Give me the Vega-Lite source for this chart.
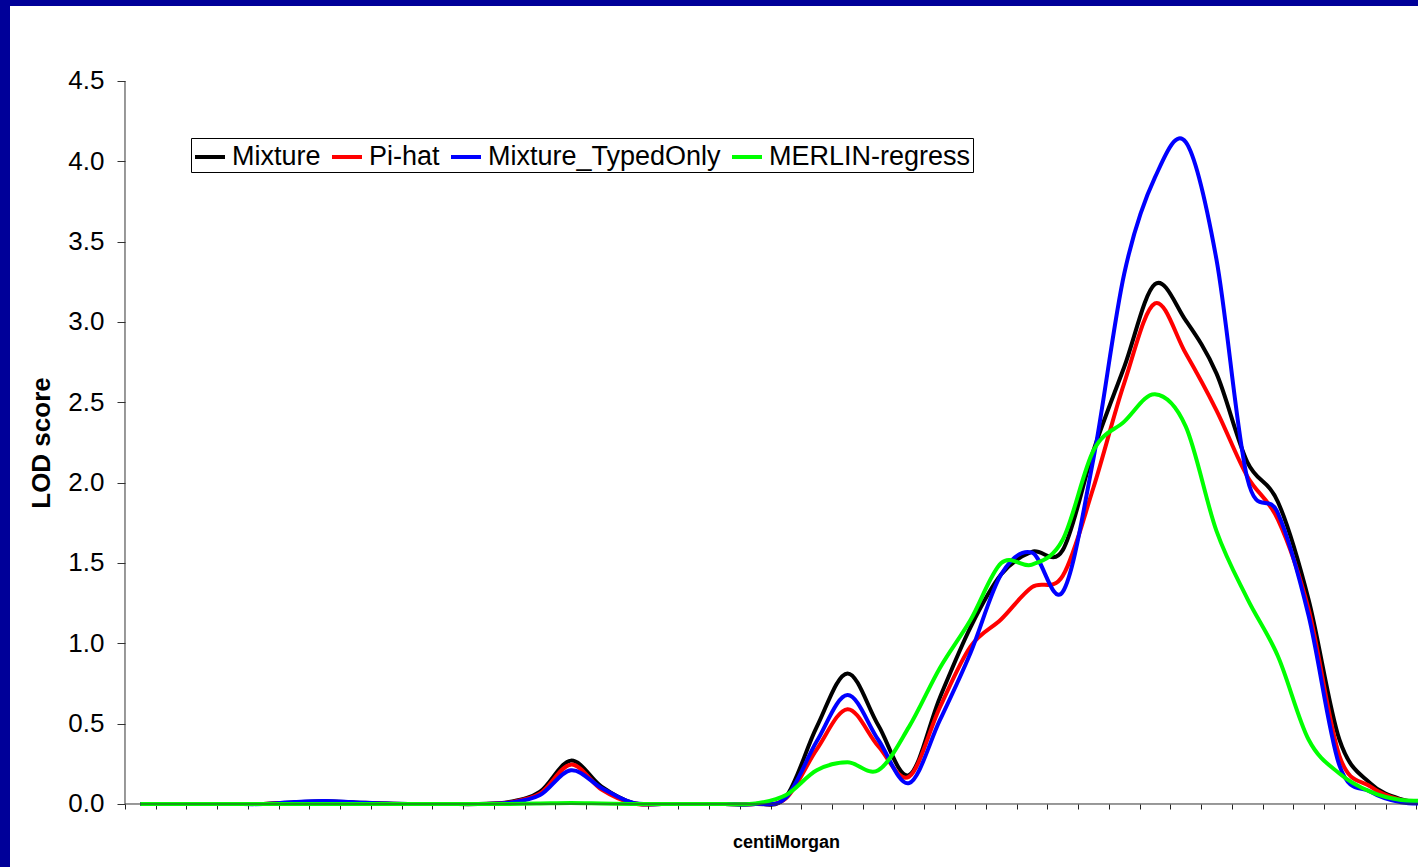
{
  "$schema": "https://vega.github.io/schema/vega-lite/v6.json",
  "width": 1408,
  "height": 861,
  "autosize": {"type": "none"},
  "padding": {"left": 10, "top": 6, "right": 0, "bottom": 0},
  "background": "#000099",
  "config": {
    "view": {"fill": "white", "stroke": null},
    "font": "Liberation Sans"
  },
  "layer": [
    {
      "data": {"values": [
        {"cm":1,"series":"Mixture","lod":0},{"cm":2,"series":"Mixture","lod":0},{"cm":3,"series":"Mixture","lod":0},{"cm":4,"series":"Mixture","lod":0},{"cm":5,"series":"Mixture","lod":0},
        {"cm":6,"series":"Mixture","lod":0.01},{"cm":7,"series":"Mixture","lod":0.017},{"cm":8,"series":"Mixture","lod":0.01},{"cm":9,"series":"Mixture","lod":0.003},{"cm":10,"series":"Mixture","lod":0},
        {"cm":11,"series":"Mixture","lod":0},{"cm":12,"series":"Mixture","lod":0},{"cm":13,"series":"Mixture","lod":0.012},{"cm":14,"series":"Mixture","lod":0.077},{"cm":15,"series":"Mixture","lod":0.27},
        {"cm":16,"series":"Mixture","lod":0.108},{"cm":17,"series":"Mixture","lod":0.008},{"cm":18,"series":"Mixture","lod":0},{"cm":19,"series":"Mixture","lod":0},{"cm":20,"series":"Mixture","lod":0},
        {"cm":21,"series":"Mixture","lod":0},{"cm":22,"series":"Mixture","lod":0.045},{"cm":23,"series":"Mixture","lod":0.48},{"cm":24,"series":"Mixture","lod":0.813},{"cm":25,"series":"Mixture","lod":0.49},
        {"cm":26,"series":"Mixture","lod":0.18},{"cm":27,"series":"Mixture","lod":0.66},{"cm":28,"series":"Mixture","lod":1.1},{"cm":29,"series":"Mixture","lod":1.43},{"cm":30,"series":"Mixture","lod":1.57},
        {"cm":31,"series":"Mixture","lod":1.58},{"cm":32,"series":"Mixture","lod":2.2},{"cm":33,"series":"Mixture","lod":2.72},{"cm":34,"series":"Mixture","lod":3.236},{"cm":35,"series":"Mixture","lod":3.01},
        {"cm":36,"series":"Mixture","lod":2.68},{"cm":37,"series":"Mixture","lod":2.13},{"cm":38,"series":"Mixture","lod":1.88},{"cm":39,"series":"Mixture","lod":1.27},{"cm":40,"series":"Mixture","lod":0.4},
        {"cm":41,"series":"Mixture","lod":0.13},{"cm":42,"series":"Mixture","lod":0.03},{"cm":43,"series":"Mixture","lod":0.01},

        {"cm":1,"series":"Pi-hat","lod":0},{"cm":2,"series":"Pi-hat","lod":0},{"cm":3,"series":"Pi-hat","lod":0},{"cm":4,"series":"Pi-hat","lod":0},{"cm":5,"series":"Pi-hat","lod":0},
        {"cm":6,"series":"Pi-hat","lod":0.008},{"cm":7,"series":"Pi-hat","lod":0.012},{"cm":8,"series":"Pi-hat","lod":0.006},{"cm":9,"series":"Pi-hat","lod":0.002},{"cm":10,"series":"Pi-hat","lod":0},
        {"cm":11,"series":"Pi-hat","lod":0},{"cm":12,"series":"Pi-hat","lod":0},{"cm":13,"series":"Pi-hat","lod":0.01},{"cm":14,"series":"Pi-hat","lod":0.065},{"cm":15,"series":"Pi-hat","lod":0.245},
        {"cm":16,"series":"Pi-hat","lod":0.09},{"cm":17,"series":"Pi-hat","lod":0.005},{"cm":18,"series":"Pi-hat","lod":0},{"cm":19,"series":"Pi-hat","lod":0},{"cm":20,"series":"Pi-hat","lod":0},
        {"cm":21,"series":"Pi-hat","lod":0},{"cm":22,"series":"Pi-hat","lod":0.035},{"cm":23,"series":"Pi-hat","lod":0.34},{"cm":24,"series":"Pi-hat","lod":0.59},{"cm":25,"series":"Pi-hat","lod":0.36},
        {"cm":26,"series":"Pi-hat","lod":0.17},{"cm":27,"series":"Pi-hat","lod":0.6},{"cm":28,"series":"Pi-hat","lod":0.98},{"cm":29,"series":"Pi-hat","lod":1.15},{"cm":30,"series":"Pi-hat","lod":1.35},
        {"cm":31,"series":"Pi-hat","lod":1.42},{"cm":32,"series":"Pi-hat","lod":1.97},{"cm":33,"series":"Pi-hat","lod":2.62},{"cm":34,"series":"Pi-hat","lod":3.116},{"cm":35,"series":"Pi-hat","lod":2.805},
        {"cm":36,"series":"Pi-hat","lod":2.45},{"cm":37,"series":"Pi-hat","lod":2.04},{"cm":38,"series":"Pi-hat","lod":1.77},{"cm":39,"series":"Pi-hat","lod":1.21},{"cm":40,"series":"Pi-hat","lod":0.3},
        {"cm":41,"series":"Pi-hat","lod":0.11},{"cm":42,"series":"Pi-hat","lod":0.025},{"cm":43,"series":"Pi-hat","lod":0.01},

        {"cm":1,"series":"Mixture_TypedOnly","lod":0},{"cm":2,"series":"Mixture_TypedOnly","lod":0},{"cm":3,"series":"Mixture_TypedOnly","lod":0},{"cm":4,"series":"Mixture_TypedOnly","lod":0},{"cm":5,"series":"Mixture_TypedOnly","lod":0},
        {"cm":6,"series":"Mixture_TypedOnly","lod":0.012},{"cm":7,"series":"Mixture_TypedOnly","lod":0.018},{"cm":8,"series":"Mixture_TypedOnly","lod":0.01},{"cm":9,"series":"Mixture_TypedOnly","lod":0.003},{"cm":10,"series":"Mixture_TypedOnly","lod":0},
        {"cm":11,"series":"Mixture_TypedOnly","lod":0},{"cm":12,"series":"Mixture_TypedOnly","lod":0},{"cm":13,"series":"Mixture_TypedOnly","lod":0.008},{"cm":14,"series":"Mixture_TypedOnly","lod":0.056},{"cm":15,"series":"Mixture_TypedOnly","lod":0.21},
        {"cm":16,"series":"Mixture_TypedOnly","lod":0.1},{"cm":17,"series":"Mixture_TypedOnly","lod":0.008},{"cm":18,"series":"Mixture_TypedOnly","lod":0},{"cm":19,"series":"Mixture_TypedOnly","lod":0},{"cm":20,"series":"Mixture_TypedOnly","lod":0},
        {"cm":21,"series":"Mixture_TypedOnly","lod":0},{"cm":22,"series":"Mixture_TypedOnly","lod":0.04},{"cm":23,"series":"Mixture_TypedOnly","lod":0.39},{"cm":24,"series":"Mixture_TypedOnly","lod":0.678},{"cm":25,"series":"Mixture_TypedOnly","lod":0.4},
        {"cm":26,"series":"Mixture_TypedOnly","lod":0.13},{"cm":27,"series":"Mixture_TypedOnly","lod":0.52},{"cm":28,"series":"Mixture_TypedOnly","lod":0.94},{"cm":29,"series":"Mixture_TypedOnly","lod":1.43},{"cm":30,"series":"Mixture_TypedOnly","lod":1.565},
        {"cm":31,"series":"Mixture_TypedOnly","lod":1.32},{"cm":32,"series":"Mixture_TypedOnly","lod":2.15},{"cm":33,"series":"Mixture_TypedOnly","lod":3.3},{"cm":34,"series":"Mixture_TypedOnly","lod":3.9},{"cm":35,"series":"Mixture_TypedOnly","lod":4.12},
        {"cm":36,"series":"Mixture_TypedOnly","lod":3.39},{"cm":37,"series":"Mixture_TypedOnly","lod":2.03},{"cm":38,"series":"Mixture_TypedOnly","lod":1.81},{"cm":39,"series":"Mixture_TypedOnly","lod":1.17},{"cm":40,"series":"Mixture_TypedOnly","lod":0.24},
        {"cm":41,"series":"Mixture_TypedOnly","lod":0.077},{"cm":42,"series":"Mixture_TypedOnly","lod":0.01},{"cm":43,"series":"Mixture_TypedOnly","lod":0.005},

        {"cm":1,"series":"MERLIN-regress","lod":0},{"cm":2,"series":"MERLIN-regress","lod":0},{"cm":3,"series":"MERLIN-regress","lod":0},{"cm":4,"series":"MERLIN-regress","lod":0},{"cm":5,"series":"MERLIN-regress","lod":0},
        {"cm":6,"series":"MERLIN-regress","lod":0},{"cm":7,"series":"MERLIN-regress","lod":0},{"cm":8,"series":"MERLIN-regress","lod":0},{"cm":9,"series":"MERLIN-regress","lod":0},{"cm":10,"series":"MERLIN-regress","lod":0},
        {"cm":11,"series":"MERLIN-regress","lod":0},{"cm":12,"series":"MERLIN-regress","lod":0},{"cm":13,"series":"MERLIN-regress","lod":0},{"cm":14,"series":"MERLIN-regress","lod":0.003},{"cm":15,"series":"MERLIN-regress","lod":0.006},
        {"cm":16,"series":"MERLIN-regress","lod":0.003},{"cm":17,"series":"MERLIN-regress","lod":0},{"cm":18,"series":"MERLIN-regress","lod":0},{"cm":19,"series":"MERLIN-regress","lod":0},{"cm":20,"series":"MERLIN-regress","lod":0},
        {"cm":21,"series":"MERLIN-regress","lod":0.003},{"cm":22,"series":"MERLIN-regress","lod":0.056},{"cm":23,"series":"MERLIN-regress","lod":0.21},{"cm":24,"series":"MERLIN-regress","lod":0.26},{"cm":25,"series":"MERLIN-regress","lod":0.21},
        {"cm":26,"series":"MERLIN-regress","lod":0.48},{"cm":27,"series":"MERLIN-regress","lod":0.845},{"cm":28,"series":"MERLIN-regress","lod":1.145},{"cm":29,"series":"MERLIN-regress","lod":1.5},{"cm":30,"series":"MERLIN-regress","lod":1.49},
        {"cm":31,"series":"MERLIN-regress","lod":1.645},{"cm":32,"series":"MERLIN-regress","lod":2.2},{"cm":33,"series":"MERLIN-regress","lod":2.38},{"cm":34,"series":"MERLIN-regress","lod":2.55},{"cm":35,"series":"MERLIN-regress","lod":2.35},
        {"cm":36,"series":"MERLIN-regress","lod":1.7},{"cm":37,"series":"MERLIN-regress","lod":1.28},{"cm":38,"series":"MERLIN-regress","lod":0.92},{"cm":39,"series":"MERLIN-regress","lod":0.4},{"cm":40,"series":"MERLIN-regress","lod":0.19},
        {"cm":41,"series":"MERLIN-regress","lod":0.077},{"cm":42,"series":"MERLIN-regress","lod":0.025},{"cm":43,"series":"MERLIN-regress","lod":0.025}
      ]},
      "mark": {"type": "line", "interpolate": "cardinal", "strokeWidth": 4, "clip": true},
      "encoding": {
        "x": {
          "field": "cm", "type": "quantitative",
          "scale": {"domain": [-3.2404, 42.5556], "nice": false, "zero": false},
          "axis": {
            "orient": "bottom", "offset": -63, "tickCount": 200,
            "values": [0.5,1.5,2.5,3.5,4.5,5.5,6.5,7.5,8.5,9.5,10.5,11.5,12.5,13.5,14.5,15.5,16.5,17.5,18.5,19.5,20.5,21.5,22.5,23.5,24.5,25.5,26.5,27.5,28.5,29.5,30.5,31.5,32.5,33.5,34.5,35.5,36.5,37.5,38.5,39.5,40.5,41.5,42.5],
            "labels": false, "domain": false, "grid": false,
            "tickSize": 5, "tickColor": "#222222", "tickWidth": 1, "tickRound": true,
            "title": "centiMorgan", "titleFont": "Liberation Sans", "titleFontSize": 18, "titleFontWeight": "bold", "titleColor": "black",
            "titleX": 776, "titleY": 43, "titleBaseline": "alphabetic", "titleAlign": "center"
          }
        },
        "y": {
          "field": "lod", "type": "quantitative",
          "scale": {"domain": [-0.39212, 4.9668], "nice": false, "zero": false},
          "axis": {
            "orient": "left", "offset": -115, "tickCount": 50,
            "values": [0,0.5,1,1.5,2,2.5,3,3.5,4,4.5], "format": ".1f",
            "domain": false, "grid": false,
            "tickSize": 8, "tickColor": "#333333", "tickWidth": 1,
            "labelFont": "Liberation Sans", "labelFontSize": 26, "labelColor": "black", "labelPadding": 13,
            "labelOverlap": false, "labelFlush": false, "labelBound": false,
            "title": "LOD score", "titleFont": "Liberation Sans", "titleFontSize": 26, "titleFontWeight": "bold", "titleColor": "black",
            "titleX": -76, "titleY": 436.5, "titleAngle": -90, "titleBaseline": "alphabetic", "titleAlign": "center"
          }
        },
        "color": {
          "field": "series", "type": "nominal",
          "scale": {"domain": ["Mixture","Pi-hat","Mixture_TypedOnly","MERLIN-regress"], "range": ["#000000","#FF0000","#0000FF","#00FF00"]},
          "legend": {
            "orient": "none", "legendX": 181, "legendY": 132, "direction": "horizontal",
            "title": null, "labelFont": "Liberation Sans", "labelFontSize": 27, "labelColor": "black", "labelLimit": 500,
            "symbolType": "stroke", "symbolSize": 900, "symbolStrokeWidth": 4, "labelOffset": 5,
            "columnPadding": 3, "padding": 2, "strokeColor": "black", "fillColor": "white"
          }
        }
      }
    },
    {
      "data": {"values": [{}]},
      "mark": {"type": "rule", "color": "#333333", "strokeWidth": 1},
      "encoding": {
        "x": {"datum": 0.5, "type": "quantitative"},
        "y": {"datum": 0, "type": "quantitative"},
        "y2": {"datum": 4.5}
      }
    },
    {
      "data": {"values": [{}]},
      "mark": {"type": "rule", "color": "#333333", "strokeWidth": 1, "clip": true},
      "encoding": {
        "x": {"datum": 0.5, "type": "quantitative"},
        "x2": {"datum": 44},
        "y": {"datum": 0, "type": "quantitative"}
      }
    }
  ]
}
